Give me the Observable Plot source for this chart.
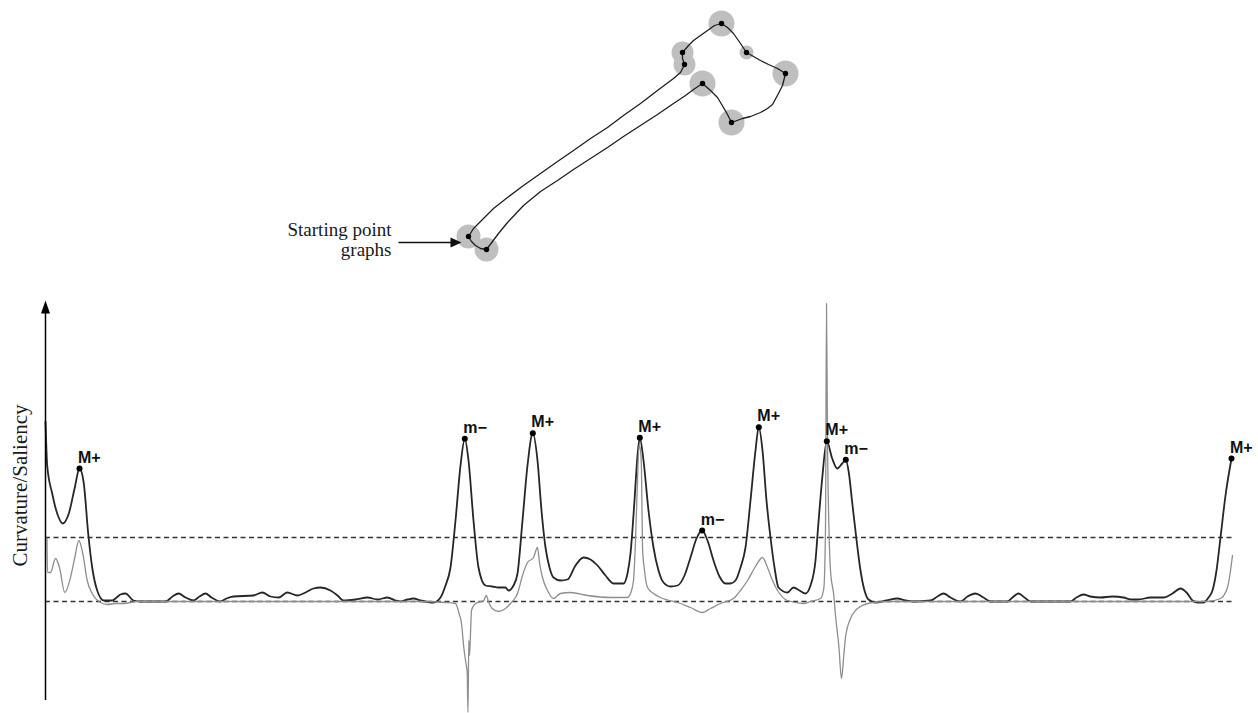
<!DOCTYPE html>
<html><head><meta charset="utf-8">
<script src="https://cdn.jsdelivr.net/npm/d3@7"></script>
<script src="https://cdn.jsdelivr.net/npm/@observablehq/plot@0.6"></script>
<style>
body{margin:0;background:#fff;}
#wrap{width:1258px;height:713px;overflow:hidden;background:#fff;}
#wrap svg{display:block;}
</style>
</head><body><div id="wrap"></div>
<script>
// ---------- Shape (outline of the object) ----------
const contour = [
  [468,236],[473,228],[483,218],[493,208],[507,197],[523,185],[540,173],[557,161],[573,150],[590,138],
  [607,127],[623,115],[640,103],[657,90],[673,78],[680,72],[684,64],[682,58],[682,52],[688,45],
  [693,40],[700,35],[707,30],[714,25],[721,23],[727,27],[733,33],[740,43],[746,52],[753,56],
  [760,60],[768,64],[777,68],[785,73],[782,85],[778,93],[772,104],[767,108],[760,112],[750,116],
  [742,118],[731,122],[727,114],[723,107],[717,97],[710,90],[702,83],[693,89],[685,95],[673,103],
  [657,114],[640,125],[623,136],[607,147],[590,158],[573,169],[557,180],[540,191],[523,205],[507,222],
  [498,233],[492,241],[486,249],[480,248],[475,245],[471,241],[468,236]
];
// feature points: [x, y, halo radius]
const features = [
  [468,236,12],[486,249,12],[682,52,11],[684,64,11],[721,23,13],
  [746,52,7],[785,73,13],[731,122,13],[702,83,13]
];
const startLabel = "Starting point\ngraphs";
const startLabelPos = [391, 255];
const startArrow = {x1: 398, x2: 452, tip: 461, y: 242};

// ---------- Curves (position along contour, value) ----------
const saliency = [
  [0,180],[1.7,136],[6.7,108],[11.7,88],[17.3,78],[23.3,88],[29.3,114],[34,133],[38.3,118],[42.7,68],
  [46.7,34],[51.7,11],[58.3,1],[66.7,1],[70,3],[75,7],[80,8],[88,1],[95,0],[120,0],
  [127,5],[133,8],[140,4],[148,1],[154,5],[160,8],[166,4],[175,0],[181,3],[188,5],
  [208,6],[216.7,9],[225,5],[233.3,4],[241.7,9],[252,6],[260,9],[268,13],[275,14],[285,11],
  [292,6],[298,1],[310,2],[322,4],[332,2],[342,4],[350,1],[355,0],[362,2],[368,3],
  [375,1],[388,-1],[395,4],[400,16],[405,34],[410,81],[415,136],[419.3,162.7],[423,141],[428,81],
  [433,34],[440,16],[446.7,15],[453,14],[460,14],[463,11],[468,16],[472,28],[477,81],[482,136],
  [487.3,168.3],[492,141],[496,91],[500,54],[504,34],[508,24],[515,21],[522,22],[530,36],[538,44],
  [545,42],[552,36],[560,26],[568,18],[578,18],[582,28],[585,48],[589,101],[592,146],[594.3,163.7],
  [598,141],[603,91],[608,54],[613,31],[618,19],[625,15],[632,16],[639,26],[645,44],[651,63],
  [656.7,71],[662,61],[668,41],[674,25],[680,18],[685,18],[690,21],[695,34],[700,54],[705,101],
  [710,151],[713.3,174.3],[717,151],[721,101],[725,64],[729,34],[733,14],[742,9],[748,14],[754,11],
  [760,8],[765,16],[770,41],[772.5,73],[776.7,123],[781.3,160.3],[786.7,143],[791.7,133],[796.7,138],[800.3,141.7],
  [803.3,129],[806.7,99],[811.7,56],[815,31],[819,11],[823,2],[830,-1],[841,1],[852,3],[860,1],
  [868,0],[885,1],[892,5],[898,8],[905,4],[915,0],[922,5],[930,8],[938,4],[945,0],
  [962,0],[967,4],[973,8],[979,4],[985,0],[1025,0],[1031,4],[1038,7],[1045,5],[1055,4],
  [1067,5],[1078,4],[1085,2],[1093,2],[1105,4],[1118,4],[1127,8],[1135,13],[1141,9],[1147,1],
  [1152,-1],[1158,-1],[1163,4],[1167,11],[1171,31],[1175,64],[1180,106],[1186,143]
];
const curvature = [
  [1.5,63],[2,29],[5,29],[10,43],[14,34],[19.3,9],[25,24],[29.3,44],[33.3,61],[37.3,48],
  [41.7,21],[46.7,8],[55,-1],[61.7,-3],[70,-2],[78,-2],[92,0],[375,0],[400,-1],[410,-2],
  [413.3,-11],[416,-22],[418.3,-46],[420,-59],[421.7,-71],[422.5,-111],[423.3,-39],[424,-54],[425,-32],[426,-9],
  [430,-2],[438.3,1],[440.7,6],[443.3,-1],[446.7,-7],[453,-10],[460,-7],[465,-2],[472,8],[477,26],
  [482,39],[488,44],[492,54],[494,39],[497,24],[502,11],[508,3],[515,8],[525,9],[542,6],
  [565,4],[582,4],[586,11],[588,21],[590,61],[592,121],[593.5,156],[595,151],[596,131],[597,54],
  [599,31],[602,14],[608,8],[615,4],[635,-2],[645,-6],[657,-11],[665,-7],[675,-2],[688,3],
  [695,11],[702,21],[710,35],[717,44],[722,34],[727,21],[732,11],[742,1],[758,-2],[765,0],
  [775,3],[778.3,13],[780,73],[781,298],[782,161],[783.5,71],[785,31],[788.3,6],[790,-14],[793.3,-44],
  [796,-77],[798.3,-54],[800,-36],[805,-17],[810,-9],[815,-5],[828,-1],[845,0],[1162,0],[1175,3],
  [1182,14],[1187,46]
];
const peaks = [
  [34,133,"M+"],[419.3,162.7,"m\u2212"],[487.3,168.3,"M+"],[594.3,163.7,"M+"],[656.7,71,"m\u2212"],
  [713.3,174.3,"M+"],[781.3,160.3,"M+"],[800.3,141.7,"m\u2212"],[1186,143,"M+"]
];
const thresholds = [0, 64];
const xExtent = [0, 1187];
const yExtent = [-112, 311];
const axisTop = 301, axisBottom = -99;
const yLabel = "Curvature/Saliency";
const yLabelPos = 116;

const serif = "'Liberation Serif','Times New Roman',Times,serif";
const sans = "'Liberation Sans',Arial,Helvetica,sans-serif";

const arrowUp = {draw(ctx){ctx.moveTo(0,0);ctx.lineTo(4.5,13);ctx.lineTo(-4.5,13);ctx.closePath();}};
const arrowRight = {draw(ctx){ctx.moveTo(0,0);ctx.lineTo(-11,-5);ctx.lineTo(-11,5);ctx.closePath();}};

const topPlot = Plot.plot({
  width: 1258, height: 290, margin: 0,
  style: {background: "#fff", overflow: "visible"},
  x: {domain: [0, 1258], axis: null},
  y: {domain: [0, 290], range: [0, 290], axis: null},
  r: {type: "identity"},
  marks: [
    Plot.dot(features, {x: d => d[0], y: d => d[1], r: d => d[2], fill: "#bfbfbf"}),
    Plot.line(contour, {x: d => d[0], y: d => d[1], stroke: "#1e1e1e", strokeWidth: 1.3}),
    Plot.dot(features, {x: d => d[0], y: d => d[1], r: 2.7, fill: "#000"}),
    Plot.text([startLabel], {x: startLabelPos[0], y: startLabelPos[1], text: d => d, textAnchor: "end",
      lineAnchor: "bottom", lineHeight: 1.03, fontSize: 19, fontFamily: serif, fill: "#1a1a1a"}),
    Plot.link([startArrow], {x1: d => d.x1, x2: d => d.x2, y1: d => d.y, y2: d => d.y, stroke: "#111", strokeWidth: 1.4}),
    Plot.dot([startArrow], {x: d => d.tip, y: d => d.y, symbol: arrowRight, fill: "#111"})
  ]
});

const bottomPlot = Plot.plot({
  width: 1258, height: 423,
  marginLeft: 45, marginRight: 26, marginTop: 0, marginBottom: 0,
  style: {background: "#fff", overflow: "visible"},
  x: {domain: xExtent, axis: null},
  y: {domain: yExtent, axis: null},
  marks: [
    Plot.ruleY(thresholds, {x1: xExtent[0], x2: xExtent[1], stroke: "#333", strokeWidth: 1.3, strokeDasharray: "5,3.5"}),
    Plot.line(saliency, {x: d => d[0], y: d => d[1], curve: "monotone-x", stroke: "#262626", strokeWidth: 1.8}),
    Plot.line(curvature, {x: d => d[0], y: d => d[1], curve: "monotone-x", stroke: "#8e8e8e", strokeWidth: 1.3}),
    Plot.ruleX([0], {y1: axisBottom, y2: axisTop - 8, stroke: "#000", strokeWidth: 1.5}),
    Plot.dot([0], {x: 0, y: axisTop, symbol: arrowUp, fill: "#000"}),
    Plot.dot(peaks, {x: d => d[0], y: d => d[1], r: 3, fill: "#000"}),
    Plot.text(peaks, {x: d => d[0], y: d => d[1], text: d => d[2], textAnchor: "start", lineAnchor: "bottom",
      dx: -1.5, dy: -6, fontSize: 16, fontWeight: "bold", fontFamily: sans, fill: "#111"}),
    Plot.text([yLabel], {x: 0, y: yLabelPos, text: d => d, rotate: -90, dx: -25, textAnchor: "middle",
      lineAnchor: "middle", fontSize: 21, fontFamily: serif, fill: "#1a1a1a"})
  ]
});

const wrap = document.getElementById("wrap");
wrap.appendChild(topPlot);
wrap.appendChild(bottomPlot);
</script></body></html>
